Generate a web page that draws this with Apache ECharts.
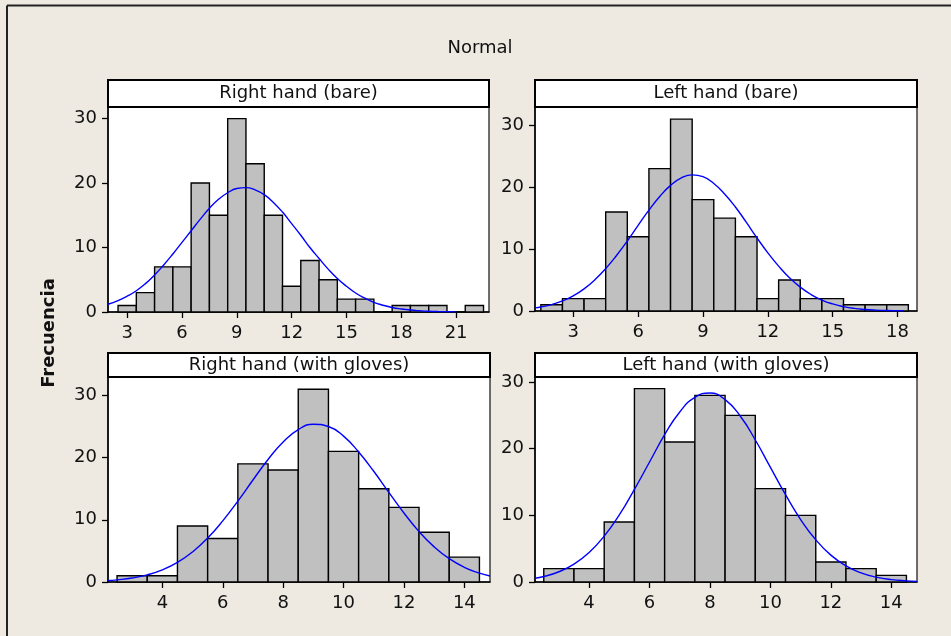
<!DOCTYPE html>
<html>
<head>
<meta charset="utf-8">
<script src="https://cdn.jsdelivr.net/npm/echarts@6/dist/echarts.min.js"></script>
<style>
html,body{margin:0;padding:0;background:#EEEAE1;}
#chart{width:951px;height:636px;}
</style>
</head>
<body>
<div id="chart"></div>
<script>
// ---- data ----
const binWidth = 1;

const rhBareBins   = [3,4,5,6,7,8,9,10,11,12,13,14,15,16,17,18,19,20,21,22];
const rhBareCounts = [1,3,7,7,20,15,30,23,15,4,8,5,2,2,0,1,1,1,0,1];
const rhBareCurveX = [1.95,2.5,3,3.5,4,4.5,5,5.5,6,6.5,7,7.5,8,8.5,9,9.5,10,10.5,11,11.5,12,12.5,13,13.5,14,14.5,15,15.5,16,16.5,17,17.5,18,18.5,19,19.5,20,21];
const rhBareCurveY = [1.2,1.75,2.45,3.3,4.4,5.75,7.3,9.0,10.8,12.6,14.4,16.1,17.5,18.5,19.15,19.3,18.95,18.2,17.0,15.5,13.7,11.9,10.0,8.3,6.65,5.2,4.0,2.95,2.15,1.5,1.05,0.7,0.47,0.3,0.19,0.11,0.07,0.02];

const lhBareBins   = [2,3,4,5,6,7,8,9,10,11,12,13,14,15,16,17,18];
const lhBareCounts = [1,2,2,16,12,23,31,18,15,12,2,5,2,2,1,1,1];
const lhBareCurveX = [1.25,1.5,2,2.5,3,3.5,4,4.5,5,5.5,6,6.5,7,7.5,8,8.5,9,9.5,10,10.5,11,11.5,12,12.5,13,13.5,14,14.5,15,15.5,16,16.5,17,17.5,18,18.3];
const lhBareCurveY = [0.5,0.64,1.04,1.63,2.46,3.58,5.05,6.85,8.97,11.3,13.85,16.3,18.5,20.3,21.5,22.0,21.7,20.6,18.9,16.8,14.35,11.8,9.4,7.25,5.37,3.85,2.66,1.77,1.14,0.71,0.42,0.25,0.14,0.07,0.04,0.03];

const rhGloveBins   = [3,4,5,6,7,8,9,10,11,12,13,14];
const rhGloveCounts = [1,1,9,7,19,18,31,21,15,12,8,4];
const rhGloveCurveX = [2.2,2.5,3,3.5,4,4.5,5,5.5,6,6.5,7,7.5,8,8.5,9,9.5,10,10.5,11,11.5,12,12.5,13,13.5,14,14.5,14.85];
const rhGloveCurveY = [0.23,0.34,0.64,1.15,1.95,3.14,4.83,7.06,9.83,13.0,16.4,19.7,22.5,24.5,25.37,25.0,23.45,20.9,17.8,14.4,11.1,8.1,5.65,3.75,2.37,1.43,0.97];

const lhGloveBins   = [3,4,5,6,7,8,9,10,11,12,13,14];
const lhGloveCounts = [2,2,9,29,21,28,25,14,10,3,2,1];
const lhGloveCurveX = [2.21,2.5,3,3.5,4,4.5,5,5.5,6,6.5,7,7.5,8,8.5,9,9.5,10,10.5,11,11.5,12,12.5,13,13.5,14,14.5,14.85];
const lhGloveCurveY = [0.56,0.83,1.54,2.69,4.43,6.88,10.07,13.9,18.0,22.1,25.5,27.7,28.35,27.35,24.9,21.3,17.2,13.1,9.37,6.33,4.03,2.42,1.36,0.73,0.36,0.17,0.1];

const panelTitles = ['Right hand (bare)','Left hand (bare)','Right hand (with gloves)','Left hand (with gloves)'];
const xTicks = [[3,6,9,12,15,18,21],[3,6,9,12,15,18],[4,6,8,10,12,14],[4,6,8,10,12,14]];
const yTicks = [0,10,20,30];
const chartTitle = 'Normal';
const yName = 'Frecuencia';

// ---- layout ----
const FONT = 'DejaVu Sans';
const FS = 18;
const grids = [
  {left:108, top:107, width:381, height:205},
  {left:535, top:107, width:382, height:204},
  {left:108, top:377, width:382, height:205},
  {left:535, top:377, width:382, height:205}
];
const xRanges = [[1.95,22.8],[1.23,18.9],[2.2,14.85],[2.21,14.85]];
const yMax = [31.8,32.96,32.96,30.75];
const headers = [
  {x:108, y:80, w:381, h:27},
  {x:535, y:80, w:382, h:27},
  {x:108, y:353, w:382, h:24},
  {x:535, y:353, w:382, h:24}
];

const panels = [
  {bins:rhBareBins, counts:rhBareCounts, cx:rhBareCurveX, cy:rhBareCurveY},
  {bins:lhBareBins, counts:lhBareCounts, cx:lhBareCurveX, cy:lhBareCurveY},
  {bins:rhGloveBins, counts:rhGloveCounts, cx:rhGloveCurveX, cy:rhGloveCurveY},
  {bins:lhGloveBins, counts:lhGloveCounts, cx:lhGloveCurveX, cy:lhGloveCurveY}
];

const chart = echarts.init(document.getElementById('chart'), null, {renderer:'canvas'});

const labelStyle = {color:'#111', fontFamily:FONT, fontSize:FS};

const xAxis = [], yAxis = [], series = [], graphic = [];
panels.forEach((p, i) => {
  xAxis.push({
    type:'value', gridIndex:i, min:xRanges[i][0], max:xRanges[i][1],
    axisLine:{show:true, onZero:false, lineStyle:{color:'#000', width:1.5}},
    axisTick:{show:true, length:6, lineStyle:{color:'#000', width:1.3}, customValues:xTicks[i]},
    axisLabel:Object.assign({margin:12, customValues:xTicks[i]}, labelStyle),
    splitLine:{show:false}
  });
  yAxis.push({
    type:'value', gridIndex:i, min:0, max:yMax[i],
    axisLine:{show:true, onZero:false, lineStyle:{color:'#000', width:1.5}},
    axisTick:{show:true, length:6, lineStyle:{color:'#000', width:1.3}, customValues:yTicks},
    axisLabel:Object.assign({margin:11, customValues:yTicks}, labelStyle),
    splitLine:{show:false}
  });
  series.push({
    type:'custom', xAxisIndex:i, yAxisIndex:i,
    data:p.bins.map((b, k) => [b, p.counts[k]]),
    renderItem:function(params, api){
      const c = api.value(0), v = api.value(1);
      const a = api.coord([c - binWidth/2, 0]);
      const b = api.coord([c + binWidth/2, v]);
      return {type:'rect', shape:{x:a[0], y:b[1], width:b[0]-a[0], height:a[1]-b[1]},
              style:{fill:'#C0C0C0', stroke:'#000', lineWidth:1.4}};
    },
    z:2
  });
  series.push({
    type:'line', xAxisIndex:i, yAxisIndex:i,
    data:p.cx.map((x, k) => [x, p.cy[k]]),
    smooth:true, showSymbol:false, clip:true,
    lineStyle:{color:'#0000FF', width:1.4},
    z:3
  });
  const h = headers[i];
  graphic.push({
    type:'rect', shape:{x:h.x, y:h.y, width:h.w, height:h.h},
    style:{fill:'#fff', stroke:'#000', lineWidth:2}, z:10
  });
  graphic.push({
    type:'text', x:h.x + h.w/2, y:h.y + h.h/2,
    style:{text:panelTitles[i], fill:'#111', font:FS + 'px "' + FONT + '"', align:'center', verticalAlign:'middle'}, z:11
  });
});

// frame lines and titles
graphic.push({type:'line', shape:{x1:7, y1:5.5, x2:951, y2:5.5}, style:{stroke:'#222', lineWidth:2}, z:1});
graphic.push({type:'line', shape:{x1:7, y1:5.5, x2:7, y2:636}, style:{stroke:'#222', lineWidth:2}, z:1});
graphic.push({type:'text', x:480, y:48, style:{text:chartTitle, fill:'#111', font:FS + 'px "' + FONT + '"', align:'center', verticalAlign:'middle'}, z:11});
graphic.push({type:'text', x:49, y:333, rotation:Math.PI/2, style:{text:yName, fill:'#111', font:'bold ' + FS + 'px "' + FONT + '"', align:'center', verticalAlign:'middle'}, z:11});

chart.setOption({
  backgroundColor:'#EEEAE1',
  animation:false,
  grid:grids.map(g => Object.assign({show:true, backgroundColor:'#fff', borderColor:'#111', borderWidth:1.2, containLabel:false}, g)),
  xAxis:xAxis, yAxis:yAxis, series:series, graphic:graphic
});
</script>
</body>
</html>
